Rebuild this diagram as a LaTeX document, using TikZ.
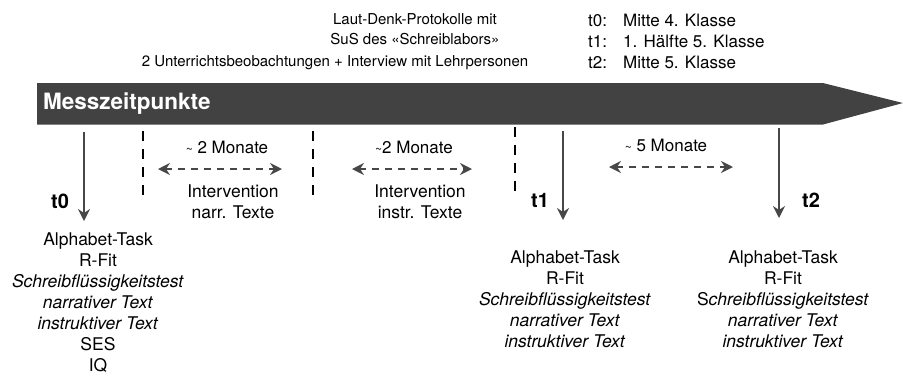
\documentclass[tikz,border=0pt]{standalone}
\usepackage{fontspec}
\setmainfont{TeX Gyre Heros}
\usetikzlibrary{arrows.meta,positioning}
\colorlet{bandgray}{black!74}
\colorlet{arrgray}{black!72}
\newcommand{\approxsym}{{\fontsize{12}{12}\selectfont\textasciitilde}}
\tikzset{
    every node/.style={inner sep=0pt, font=\fontsize{17}{20}\selectfont},
    tlabel/.style={font=\fontsize{20}{22}\selectfont\bfseries},
    small/.style={font=\fontsize{15}{18}\selectfont},
    measure/.style={->, >={Stealth[length=12pt,width=12pt,inset=4pt]}, arrgray, line width=1.8pt},
    span/.style={<->, >={Stealth[length=12pt,width=12pt,inset=4pt]}, arrgray, line width=1.8pt, dash pattern=on 7pt off 6pt},
    phase/.style={black, line width=1.8pt, dash pattern=on 10pt off 8pt},
    list/.style={align=center, font=\fontsize{17.5}{21}\selectfont}
}
\begin{document}
\begin{tikzpicture}[x=1pt,y=-1pt]
\useasboundingbox (0,0) rectangle (903,376);

% band
\fill[bandgray] (37,83) -- (823,83) -- (903,103) -- (823,124.5) -- (37,124.5) -- cycle;
\node[anchor=west, white, font=\fontsize{22.5}{24}\selectfont\bfseries] (band) at (43,104) {Messzeitpunkte};

% top texts
\node[small] (laut) at (415,19) {Laut-Denk-Protokolle mit};
\node[small] (sus) at (415,39) {SuS des «Schreiblabors»};
\node[small] (unt) at (335,63) {2 Unterrichtsbeobachtungen + Interview mit Lehrpersonen};
\node[anchor=base west] (k0) at (588,26) {t0:};
\node[anchor=base west] (k1) at (588,47) {t1:};
\node[anchor=base west] (k2) at (588,68) {t2:};
\node[anchor=base west] (w0) at (623,26) {Mitte 4. Klasse};
\node[anchor=base west] (w1) at (623,47) {1. Hälfte 5. Klasse};
\node[anchor=base west] (w2) at (623,68) {Mitte 5. Klasse};

% measurement points
\coordinate (a0) at (84,132);  \coordinate (b0) at (84,221);
\coordinate (a1) at (563,131); \coordinate (b1) at (563,220);
\coordinate (a2) at (779,128); \coordinate (b2) at (779,218);
\draw[measure] (a0) -- (b0);
\draw[measure] (a1) -- (b1);
\draw[measure] (a2) -- (b2);
\node[tlabel] (t0) at (60,201) {t0};
\node[tlabel] (t1) at (540,200) {t1};
\node[tlabel] (t2) at (811,200) {t2};

% phases
\coordinate (p0) at (143,131); \coordinate (q0) at (143,201);
\coordinate (p1) at (313,131); \coordinate (q1) at (313,201);
\coordinate (p2) at (515,127); \coordinate (q2) at (515,197);
\draw[phase] (p0) -- (q0);
\draw[phase] (p1) -- (q1);
\draw[phase] (p2) -- (q2);

\node (m1) at (227,147) {\approxsym\ 2 Monate};
\coordinate (l1) at (158,169); \coordinate (r1) at (282,169);
\draw[span] (l1) -- (r1);
\node[list] (i1) at (233,202) {Intervention\\narr. Texte};

\node (m2) at (414,147) {\approxsym 2 Monate};
\coordinate (l2) at (352,169); \coordinate (r2) at (472,169);
\draw[span] (l2) -- (r2);
\node[list] (i2) at (420,202) {Intervention\\instr. Texte};

\node (m3) at (666,145) {\approxsym\ 5 Monate};
\coordinate (l3) at (609,167); \coordinate (r3) at (733,167);
\draw[span] (l3) -- (r3);

% test batteries
\node[list, anchor=north] (s0) at (98,233) {Alphabet-Task\\R-Fit\\\textit{Schreibflüssigkeitstest}\\\textit{narrativer Text}\\\textit{instruktiver Text}\\SES\\IQ};
\node[list, anchor=north] (s1) at (565,251) {Alphabet-Task\\R-Fit\\\textit{Schreibflüssigkeitstest}\\\textit{narrativer Text}\\\textit{instruktiver Text}};
\node[list, anchor=north] (s2) at (783,251) {Alphabet-Task\\R-Fit\\S\textit{chreibflüssigkeitstest}\\\textit{narrativer Text}\\\textit{instruktiver Text}};
\end{tikzpicture}
\end{document}
